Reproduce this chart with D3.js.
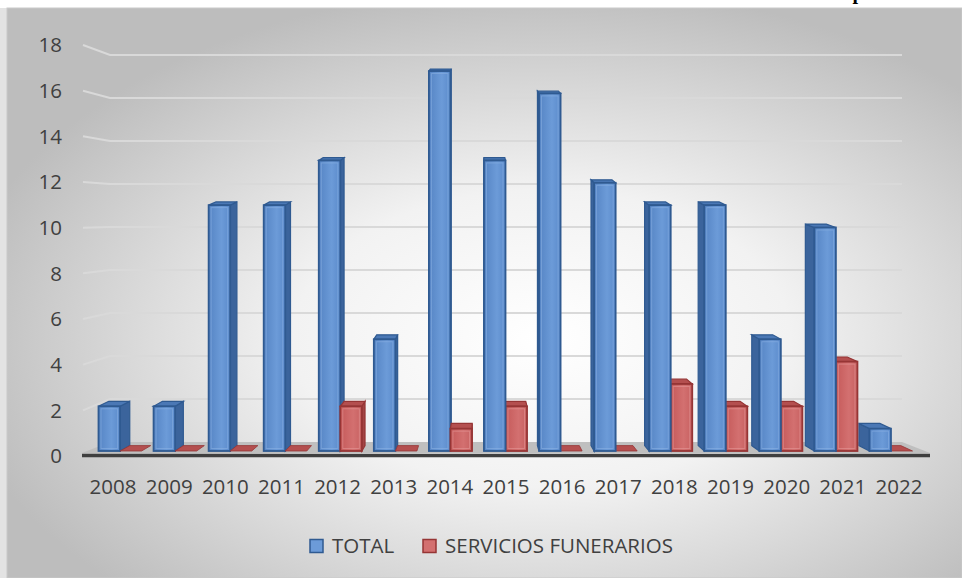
<!DOCTYPE html>
<meta charset="utf-8">
<style>
    body { margin: 0; background: #fff; }
    .tick-label { font-family: "Open Sans", sans-serif; font-size: 20.5px; fill: #404040; }
    .legend { font-family: "Open Sans", sans-serif; font-size: 20.5px; fill: #404040; }
    .title { font-family: "Liberation Serif", serif; font-weight: bold; font-size: 20px; fill: #000; }
</style>
<svg width="962" height="578"></svg>
<script src="https://d3js.org/d3.v7.min.js"></script>
<script>
    // Data
    const years = ["2008", "2009", "2010", "2011", "2012", "2013", "2014", "2015",
                   "2016", "2017", "2018", "2019", "2020", "2021", "2022"];
    const total = [2, 2, 11, 11, 13, 5, 17, 13, 16, 12, 11, 11, 5, 10, 1];
    const funerarios = [0, 0, 0, 0, 2, 0, 1, 2, 0, 0, 3, 2, 2, 4, 0];
    const seriesNames = ["TOTAL", "SERVICIOS FUNERARIOS"];
    const yTicks = [0, 2, 4, 6, 8, 10, 12, 14, 16, 18];

    const svg = d3.select("svg");
    const defs = svg.append("defs");

    // background
    const bg = defs.append("radialGradient").attr("id", "bg")
        .attr("cx", "56%").attr("cy", "58%").attr("r", "62%");
    bg.append("stop").attr("offset", "0%").attr("stop-color", "#ffffff");
    bg.append("stop").attr("offset", "42%").attr("stop-color", "#f2f2f2");
    bg.append("stop").attr("offset", "100%").attr("stop-color", "#bdbdbd");

    svg.append("rect").attr("width", 962).attr("height", 578).attr("fill", "#fff");
    svg.append("rect").attr("x", 0).attr("y", 8).attr("width", 7).attr("height", 570).attr("fill", "#e3e3e3");
    svg.append("rect").attr("x", 7).attr("y", 8).attr("width", 955).attr("height", 570)
        .attr("fill", "url(#bg)").attr("stroke", "#c9c9c9").attr("stroke-width", 1);

    // cut-off title (only its last descender shows in the reference)
    svg.append("text").attr("class", "title").attr("x", 852.5).attr("y", -1.5).text("p");

    // 3D geometry helpers
    const vx = 480;          // vanishing x
    const depth = 0.973;     // back plane shrink
    const backX = x => vx + (x - vx) * depth;
    const dyAt = y => 2 + 3.4 * Math.max(0, (y - 70)) / 381;

    // scales
    const xLabel = d3.scaleBand().domain(years).range([85, 927]);
    const xBar = d3.scaleBand().domain(years)
        .range([vx + (85 - vx) * 0.981, vx + (927 - vx) * 0.981]);
    const xSeries = d3.scaleBand().domain(seriesNames).range([6, xBar.bandwidth() - 6]);
    const yBar = d3.scaleLinear().domain([0, 18]).range([451, 48.7]);
    const yWall = d3.scaleLinear().domain([0, 18]).range([442, 55]);
    const yFront = d3.scaleLinear().domain([0, 18]).range([456, 45]);

    // wall gridlines with the left side-wall segment
    svg.append("g").selectAll("path")
        .data(yTicks.filter(v => v > 0))
        .join("path")
        .attr("d", v => `M83,${yFront(v)}L110,${yWall(v)}L902,${yWall(v)}`)
        .attr("fill", "none")
        .attr("stroke", "#d9d9d9")
        .attr("stroke-width", 2);

    // floor
    svg.append("path")
        .attr("d", `M82,${yBar(0) + 2}L930,${yBar(0) + 2}L902,${yWall(0)}L110,${yWall(0)}Z`)
        .attr("fill", "#bfbfbf");
    svg.append("line")
        .attr("x1", 82).attr("x2", 930)
        .attr("y1", yBar(0) + 4.5).attr("y2", yBar(0) + 4.5)
        .attr("stroke", "#3f3f3f").attr("stroke-width", 3.5);

    // bar gradients
    const palette = {
        "TOTAL": { front: ["#5584c4", "#6c9bd8", "#5a8acb"], side: "#3b649c", top: "#4b78b5", stroke: "#2f5a91", inner: "#8db3e4" },
        "SERVICIOS FUNERARIOS": { front: ["#c55a5a", "#d37070", "#c76060"], side: "#a24444", top: "#b44f4f", stroke: "#963535", inner: "#e59a9a" }
    };
    seriesNames.forEach((s, i) => {
        const g = defs.append("linearGradient").attr("id", "grad" + i)
            .attr("x1", "0%").attr("x2", "100%").attr("y1", "0%").attr("y2", "0%");
        g.append("stop").attr("offset", "0%").attr("stop-color", palette[s].front[0]);
        g.append("stop").attr("offset", "60%").attr("stop-color", palette[s].front[1]);
        g.append("stop").attr("offset", "100%").attr("stop-color", palette[s].front[2]);
    });

    const bars = [];
    years.forEach((yr, i) => {
        [total[i], funerarios[i]].forEach((v, si) => {
            const x0 = xBar(yr) + xSeries(seriesNames[si]);
            bars.push({ year: yr, series: seriesNames[si], si: si, value: v, x0: x0, x1: x0 + xSeries.bandwidth() });
        });
    });
    // paint the bars farthest from the vanishing point first
    bars.sort((a, b) => Math.abs((b.x0 + b.x1) / 2 - vx) - Math.abs((a.x0 + a.x1) / 2 - vx));

    const barG = svg.append("g");
    bars.forEach(d => {
        const c = palette[d.series];
        const yb = yBar(0), yt = yBar(d.value);
        const bxl = backX(d.x0), bxr = backX(d.x1);
        const byb = yb - dyAt(yb), byt = yt - dyAt(yt);
        const g = barG.append("g");
        if (d.value === 0) {
            g.append("path")
                .attr("d", `M${d.x0},${yb}L${d.x1},${yb}L${bxr},${byb}L${bxl},${byb}Z`)
                .attr("fill", c.top).attr("stroke", c.stroke).attr("stroke-width", 0.8);
            return;
        }
        const onLeft = (d.x0 + d.x1) / 2 < vx;
        const side = onLeft
            ? `M${d.x1},${yt}L${bxr},${byt}L${bxr},${byb}L${d.x1},${yb}Z`
            : `M${d.x0},${yt}L${bxl},${byt}L${bxl},${byb}L${d.x0},${yb}Z`;
        g.append("path").attr("d", side)
            .attr("fill", c.side).attr("stroke", c.stroke).attr("stroke-width", 1.2);
        g.append("path")
            .attr("d", `M${d.x0},${yt}L${d.x1},${yt}L${bxr},${byt}L${bxl},${byt}Z`)
            .attr("fill", c.top).attr("stroke", c.stroke).attr("stroke-width", 1.2);
        g.append("rect")
            .attr("x", d.x0).attr("y", yt)
            .attr("width", d.x1 - d.x0).attr("height", yb - yt)
            .attr("fill", `url(#grad${d.si})`)
            .attr("stroke", c.stroke).attr("stroke-width", 1.8);
        g.append("rect")
            .attr("x", d.x0 + 2.5).attr("y", yt + 2.5)
            .attr("width", Math.max(0, d.x1 - d.x0 - 5)).attr("height", Math.max(0, yb - yt - 5))
            .attr("fill", "none")
            .attr("stroke", c.inner).attr("stroke-opacity", 0.55).attr("stroke-width", 1);
    });

    // y labels
    svg.append("g").selectAll("text")
        .data(yTicks)
        .join("text")
        .attr("class", "tick-label")
        .attr("x", 62)
        .attr("y", v => yFront(v))
        .attr("dy", "0.35em")
        .attr("text-anchor", "end")
        .text(v => v);

    // x labels
    svg.append("g").selectAll("text")
        .data(years)
        .join("text")
        .attr("class", "tick-label")
        .attr("x", d => xLabel(d) + xLabel.bandwidth() / 2)
        .attr("y", 494)
        .attr("text-anchor", "middle")
        .text(d => d);

    // legend
    const legendX = [310, 423];
    const legend = svg.append("g");
    seriesNames.forEach((s, i) => {
        legend.append("rect")
            .attr("x", legendX[i]).attr("y", 539.5)
            .attr("width", 13).attr("height", 13)
            .attr("fill", palette[s].front[1])
            .attr("stroke", palette[s].stroke).attr("stroke-width", 1.5);
        legend.append("text")
            .attr("class", "legend")
            .attr("x", legendX[i] + 22).attr("y", 553)
            .text(s);
    });
</script>
